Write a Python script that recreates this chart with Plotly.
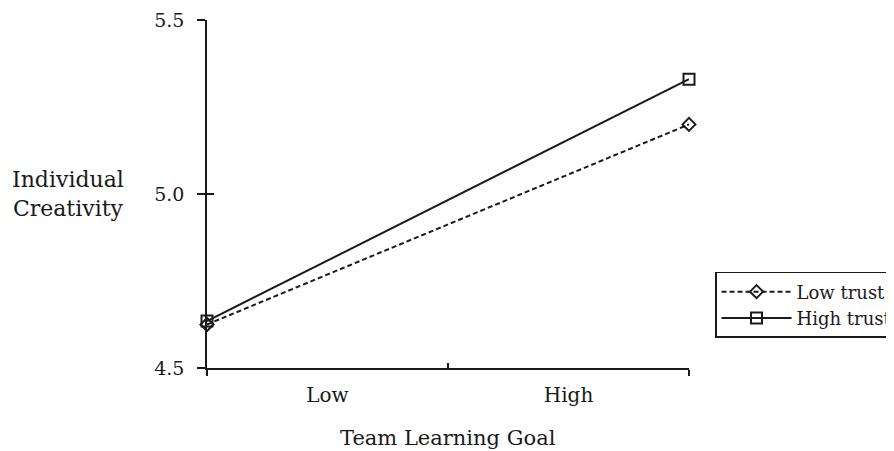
import plotly.graph_objects as go

categories = ["Low", "High"]
x_positions = [0, 1]
low_trust = [4.625, 5.20]
high_trust = [4.635, 5.33]
y_ticks = [4.5, 5.0, 5.5]
y_tick_labels = ["4.5", "5.0", "5.5"]
x_label_positions = [0.25, 0.75]
x_tick_marks = [0, 0.5, 1]

FONT = "DejaVu Serif"
INK = "#1a1a1a"

fig = go.Figure()
fig.add_trace(go.Scatter(
    x=x_positions, y=low_trust, name="Low trust", mode="lines+markers",
    line=dict(color=INK, width=2, dash="5px,3px"),
    marker=dict(symbol="diamond-open", size=10, color=INK, line=dict(width=2)),
    cliponaxis=False,
))
fig.add_trace(go.Scatter(
    x=x_positions, y=high_trust, name="High trust", mode="lines+markers",
    line=dict(color=INK, width=2),
    marker=dict(symbol="square-open", size=11, color=INK, line=dict(width=2)),
    cliponaxis=False,
))
# invisible trace to activate the overlay axes (tick marks on the other side)
fig.add_trace(go.Scatter(x=[None], y=[None], xaxis="x2", yaxis="y2",
                         showlegend=False, hoverinfo="skip"))

# page body has an 8px margin; canvas is shrunk so the plot lands where the reference has it
fig.update_layout(
    width=886, height=443,
    paper_bgcolor="white", plot_bgcolor="white",
    margin=dict(l=199, r=205, t=12, b=83, autoexpand=False),
    font=dict(family=FONT, size=19, color=INK),
    showlegend=True,
    legend=dict(
        x=1.054, y=0.276, xanchor="left", yanchor="top",
        bordercolor=INK, borderwidth=1.5, bgcolor="white",
        font=dict(family=FONT, size=18, color=INK),
        itemwidth=70, tracegroupgap=0,
    ),
    xaxis=dict(
        range=[0, 1], showgrid=False, zeroline=False,
        showline=True, linecolor=INK, linewidth=1.5,
        tickvals=x_label_positions, ticktext=categories, ticks="",
        tickfont=dict(family=FONT, size=20, color=INK),
        ticklabelstandoff=8,
        minor=dict(dtick=1, tick0=0, ticks="outside", ticklen=6, tickcolor=INK, tickwidth=1.5),
    ),
    xaxis2=dict(
        range=[0, 1], overlaying="x", showgrid=False, zeroline=False,
        showline=False, tickvals=x_tick_marks, ticks="inside", ticklen=5,
        tickcolor=INK, tickwidth=1.5, showticklabels=False, side="bottom",
    ),
    yaxis=dict(
        range=[4.5, 5.5], showgrid=False, zeroline=False,
        showline=True, linecolor=INK, linewidth=1.5,
        tickvals=y_ticks, ticktext=y_tick_labels, ticks="outside", ticklen=8,
        tickcolor=INK, tickwidth=1.5, ticklabelstandoff=9,
        tickfont=dict(family=FONT, size=19, color=INK),
    ),
    yaxis2=dict(
        range=[4.5, 5.5], overlaying="y", showgrid=False, zeroline=False,
        showline=False, tickvals=y_ticks, ticks="inside", ticklen=7,
        tickcolor=INK, tickwidth=1.5, showticklabels=False, side="left",
    ),
)

fig.add_annotation(text="Individual<br>Creativity", xref="paper", yref="paper",
                   x=-0.288, y=0.5, xanchor="center", yanchor="middle",
                   showarrow=False, align="center",
                   font=dict(family=FONT, size=22, color=INK))
fig.add_annotation(text="Team Learning Goal", xref="paper", yref="paper",
                   x=0.5, y=-0.201, xanchor="center", yanchor="middle",
                   showarrow=False, font=dict(family=FONT, size=21, color=INK))

fig.write_html("out.html")
